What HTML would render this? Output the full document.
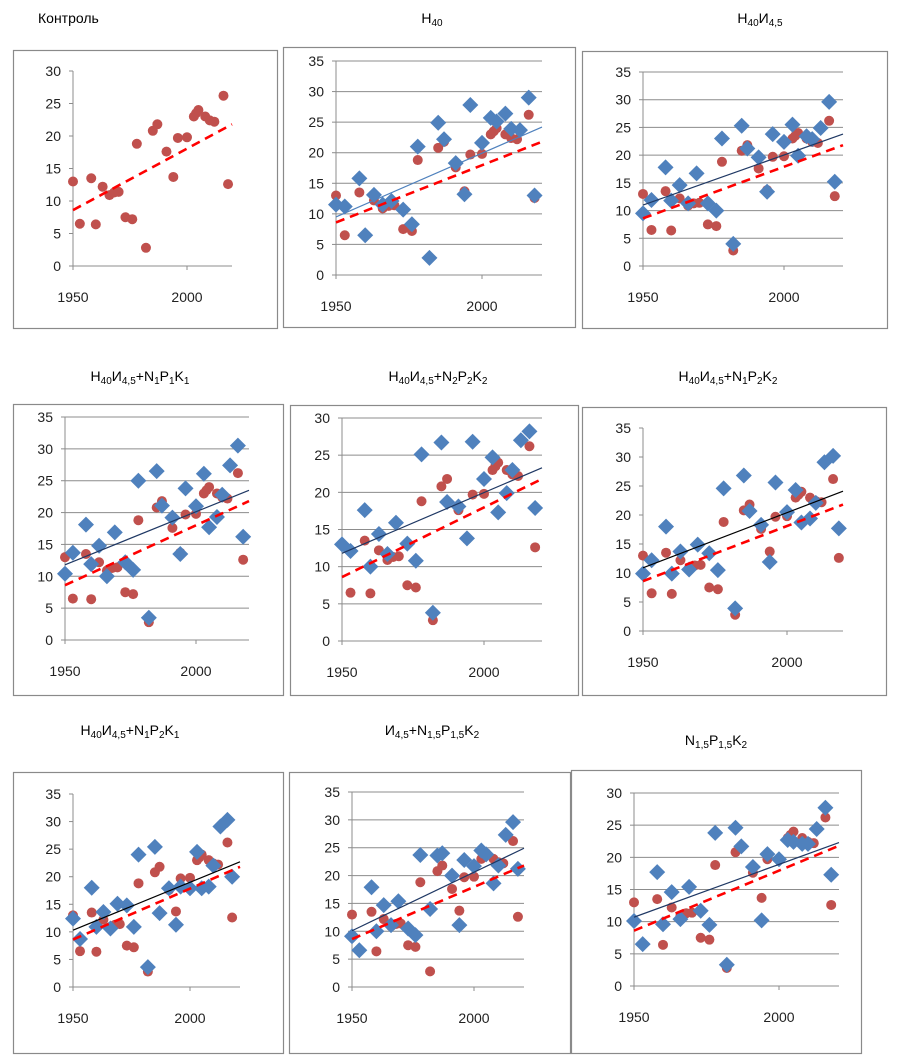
<!DOCTYPE html>
<html><head><meta charset="utf-8"><style>
body{margin:0;background:#fff;}
svg{display:block;font-family:"Liberation Sans",sans-serif;}
</style></head><body>
<svg id="c" width="906" height="1055" viewBox="0 0 906 1055"></svg>
<script>
const redYears=[1950,1953,1958,1960,1963,1966,1968,1970,1973,1976,1978,1982,1985,1987,1991,1994,1996,2000,2003,2004,2005,2008,2010,2012,2016,2018];
const redValues=[13.0,6.5,13.5,6.4,12.2,10.9,11.3,11.4,7.5,7.2,18.8,2.8,20.8,21.8,17.6,13.7,19.7,19.8,23.0,23.5,24.0,23.0,22.4,22.2,26.2,12.6];
const redTrend=[8.6,21.8];
const blueYears=[1950,1953,1958,1960,1963,1966,1969,1973,1976,1978,1982,1985,1987,1991,1994,1996,2000,2003,2005,2008,2010,2013,2016,2018];
const blueH40=[11.5,11.2,15.8,6.5,13.1,11.5,12.1,10.7,8.3,21.0,2.8,24.9,22.2,18.3,13.2,27.8,21.6,25.7,25.1,26.4,23.9,23.7,29.0,13.0];
const blueH40I=[9.5,11.9,17.8,11.8,14.6,11.3,16.7,11.3,10.0,23.0,4.0,25.3,21.2,19.6,13.4,23.8,22.4,25.5,19.9,23.4,22.9,24.9,29.6,15.2];
const blueN1P1K1=[10.4,13.7,18.1,11.9,14.8,10.0,16.9,12.2,11.0,25.0,3.5,26.5,21.1,19.2,13.5,23.8,21.0,26.1,17.7,19.3,22.8,27.4,30.5,16.2];
const blueN2P2K2=[13.0,12.1,17.6,10.0,14.4,11.7,15.9,13.1,10.8,25.1,3.8,26.7,18.7,18.1,13.8,26.8,21.8,24.7,17.3,19.9,23.0,27.0,28.2,17.9];
const blueN1P2K2=[9.9,12.2,18.0,9.9,13.7,10.6,14.9,13.4,10.5,24.6,3.9,26.8,20.7,18.3,11.9,25.6,20.5,24.3,18.7,19.4,22.1,29.1,30.2,17.7];
const blueN1P2K1=[12.4,8.7,18.0,10.9,13.6,10.6,15.1,14.8,10.9,24.0,3.6,25.4,13.4,17.9,11.3,18.2,17.9,24.5,17.9,18.2,22.0,29.1,30.3,20.0];
const blueI=[9.1,6.6,17.9,10.0,14.7,11.1,15.4,10.5,9.3,23.7,14.0,23.6,24.0,20.0,11.1,22.8,21.7,24.5,23.8,18.6,21.8,27.3,29.6,21.2];
const blueNPK=[10.1,6.5,17.7,9.6,14.6,10.4,15.4,11.7,9.5,23.8,3.3,24.6,21.7,18.5,10.2,20.5,19.7,22.7,22.4,22.1,22.1,24.4,27.7,17.3];
const blueTrendStart=[null,9.5,11.0,11.8,11.8,10.9,10.3,10.1,10.7];
const blueTrendEnd=[null,24.2,23.8,23.5,23.3,24.1,22.7,24.9,22.3];

const S=(s)=>`<tspan font-size="10" dy="3">${s}</tspan>`;
const N=(s)=>`<tspan dy="-3">${s}</tspan>`;
const H=`Н${S('40')}${N('И')}${S('4,5')}`;
const panels=[
 {t:'Контроль',tx:38,ty:23,anchor:'start',fx:13,fy:50,fw:264,fh:278,x0:73,x1:187,xr:232,y0:266,yTop:71,ymax:30,blue:null,grid:false},
 {t:`Н${S('40')}`,tx:432,ty:23,fx:283,fy:47,fw:292,fh:280,x0:336,x1:482,xr:542,y0:275,yTop:61,ymax:35,blue:blueH40,bc:'#4F81BD',grid:true},
 {t:H,tx:760,ty:23,fx:582,fy:51,fw:305,fh:277,x0:643,x1:784,xr:843,y0:266,yTop:72,ymax:35,blue:blueH40I,bc:'#1F3864',grid:true},
 {t:H+N('+N')+S('1')+N('P')+S('1')+N('K')+S('1'),tx:140,ty:381,fx:13,fy:404,fw:270,fh:291,x0:65,x1:196,xr:249,y0:640,yTop:417,ymax:35,blue:blueN1P1K1,bc:'#1F3864',grid:true},
 {t:H+N('+N')+S('2')+N('P')+S('2')+N('K')+S('2'),tx:438,ty:381,fx:290,fy:405,fw:288,fh:290,x0:342,x1:484,xr:542,y0:641,yTop:418,ymax:30,blue:blueN2P2K2,bc:'#1F3864',grid:true},
 {t:H+N('+N')+S('1')+N('P')+S('2')+N('K')+S('2'),tx:728,ty:381,fx:582,fy:407,fw:304,fh:288,x0:643,x1:787,xr:843,y0:631,yTop:428,ymax:35,blue:blueN1P2K2,bc:'#000',grid:false},
 {t:H+N('+N')+S('1')+N('P')+S('2')+N('K')+S('1'),tx:130,ty:735,fx:13,fy:772,fw:270,fh:281,x0:73,x1:190,xr:240,y0:987,yTop:794,ymax:35,blue:blueN1P2K1,bc:'#000',grid:false},
 {t:`И${S('4,5')}${N('+N')}${S('1,5')}${N('P')}${S('1,5')}${N('K')}${S('2')}`,tx:432,ty:735,fx:289,fy:772,fw:281,fh:281,x0:352,x1:474,xr:524,y0:987,yTop:792,ymax:35,blue:blueI,bc:'#1F3864',grid:true},
 {t:`N${S('1,5')}${N('P')}${S('1,5')}${N('K')}${S('2')}`,tx:716,ty:745,fx:571,fy:770,fw:290,fh:283,x0:634,x1:779,xr:839,y0:986,yTop:793,ymax:30,blue:blueNPK,bc:'#1F3864',grid:true}
];
const NS='http://www.w3.org/2000/svg';
const svg=document.getElementById('c');
function mk(tag,attrs,parent){const e=document.createElementNS(NS,tag);for(const k in attrs)e.setAttribute(k,attrs[k]);(parent||svg).appendChild(e);return e;}
panels.forEach((p,pi)=>{
 const g=mk('g',{});
 
 
 const fr=mk('rect',{x:p.fx+0.5,y:p.fy+0.5,width:p.fw,height:p.fh,fill:'#fff',stroke:'#8a8a8a','stroke-width':1.2},g);
 
 
 const tt=mk('text',{x:p.tx,y:p.ty,'font-size':14,'text-anchor':p.anchor||'middle',fill:'#000'},g);
 tt.innerHTML=p.t;
 
 
 const xs=y=>p.x0+(y-1950)*(p.x1-p.x0)/50;
 const ys=v=>p.y0-v*(p.y0-p.yTop)/p.ymax;
 for(let v=0;v<=p.ymax;v+=5){
  if(p.grid&&v>0){const gl=mk('line',{x1:p.x0,x2:p.xr,y1:ys(v),y2:ys(v),stroke:'#8c8c8c','stroke-width':1},g);
   
   }
  mk('line',{x1:p.x0-4,x2:p.x0,y1:ys(v),y2:ys(v),stroke:'#8c8c8c'},g);
  const tl=mk('text',{x:p.x0-12,y:ys(v)+5,'font-size':14,'text-anchor':'end',fill:'#222'},g);
  tl.textContent=v;
  
  
 }
 const ya=mk('line',{x1:p.x0,x2:p.x0,y1:p.yTop,y2:p.y0+4,stroke:'#8c8c8c','stroke-width':1},g);
 
 
 const xa=mk('line',{x1:p.x0,x2:p.xr,y1:p.y0,y2:p.y0,stroke:'#8c8c8c','stroke-width':1},g);
 
 
 [1950,2000].forEach(yr=>{
  mk('line',{x1:xs(yr),x2:xs(yr),y1:p.y0,y2:p.y0+4,stroke:'#8c8c8c'},g);
  const xl=mk('text',{x:xs(yr),y:p.y0+36,'font-size':14,'text-anchor':'middle',fill:'#222'},g);
  xl.textContent=yr;
  
  
 });
 redYears.forEach((yr,i)=>{
  const c=mk('circle',{cx:xs(yr),cy:ys(redValues[i]),r:5,fill:'#C0504D'},g);
  
  
 });
 if(p.blue){
  p.blue.forEach((v,i)=>{
   const cx=xs(blueYears[i]),cy=ys(v),s=8;
   const d=mk('polygon',{points:`${cx},${cy-s} ${cx+s},${cy} ${cx},${cy+s} ${cx-s},${cy}`,fill:'#4F81BD'},g);
   
   
  });
  const bl=mk('line',{x1:xs(1950),y1:ys(blueTrendStart[pi]),x2:p.xr,y2:ys(blueTrendEnd[pi]),stroke:p.bc,'stroke-width':1.2},g);
  
  
 }
 const rl=mk('line',{x1:xs(1950),y1:ys(redTrend[0]),x2:p.xr,y2:ys(redTrend[1]),stroke:'#FF0000','stroke-width':2.6,'stroke-dasharray':'9,6'},g);
 
 
});
</script>
</body></html>
